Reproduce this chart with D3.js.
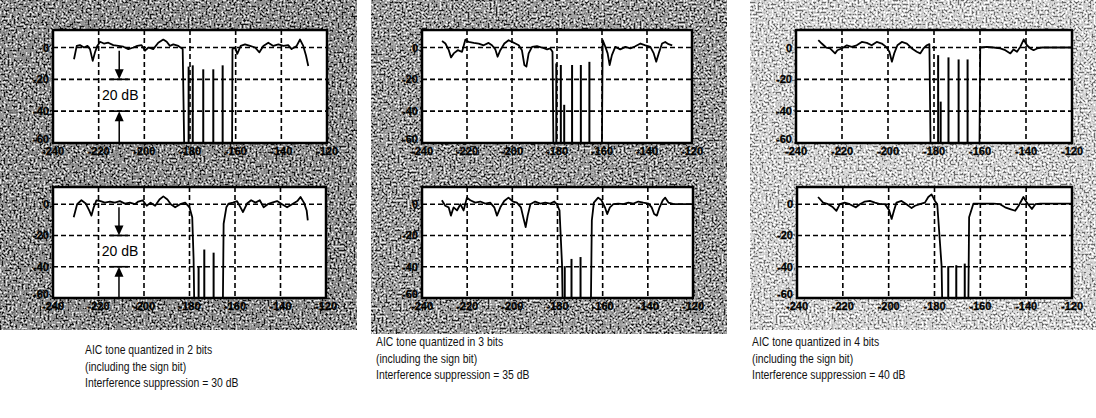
<!DOCTYPE html>
<html>
<head>
<meta charset="utf-8">
<script src="https://cdn.jsdelivr.net/npm/d3@7"></script>
<style>
html, body { margin: 0; padding: 0; background: #fff; }
svg { display: block; }
.cap { font-family: "Liberation Sans", Arial, sans-serif; font-size: 13px; fill: #111; }
.tick { font-family: "Liberation Sans", Arial, sans-serif; font-size: 11px; font-weight: bold; fill: #000; stroke: #000; stroke-width: 0.3; }
.note { font-family: "Liberation Sans", Arial, sans-serif; font-size: 14px; fill: #000; }
</style>
</head>
<body>
<div id="chart"></div>
<script>
// 坐标轴刻度
const xTicks = [-240, -220, -200, -180, -160, -140, -120];
const yTicks = [0, -20, -40, -60];
const yTop = 11;

// 说明文字
const bitCounts = [2, 3, 4];
const suppressionDb = [30, 35, 40];

// 频谱曲线 [频率, dB]，-75 表示落到坐标下限以下
const bits2Top = [[-230.8,-7.4],[-229.6,1],[-228.2,1.5],[-226.4,0],[-224.9,1],[-223.8,-1],[-222.6,-8.4],[-221.6,-3],[-220.6,1],[-219.4,3.6],[-217.7,2.5],[-215.8,3],[-213.6,1.5],[-211.4,1],[-209.2,0.5],[-207,-1],[-204.8,0],[-203.1,1],[-201.2,1.5],[-199.7,-2],[-198.2,0],[-196.1,-1],[-193.9,3],[-191.7,5],[-190.2,3.6],[-188.8,1],[-187.3,2],[-185.1,1],[-183.2,-1],[-182.4,-75],
  [-161.6,-75],[-161.4,-1],[-160.3,0],[-159.3,-4],[-157.8,1],[-155.9,2],[-153.7,1],[-151.5,0],[-149.6,-3],[-147.9,1],[-145.7,3],[-143.5,1],[-141.3,2],[-139.1,1],[-137,1.5],[-135.5,-1],[-133.3,1],[-131.8,5],[-130.4,1],[-129.2,-5],[-128.2,-11.6]];
const bits2TopStems = [[-180.6,-12],[-178.8,-11.2],[-174.2,-13.7],[-169.8,-13.7],[-165.7,-11.2]];

const bits2Bottom = [[-230.9,-8.3],[-229.4,0],[-227.5,2.5],[-225.6,0.4],[-224.1,-4],[-223.1,-7.3],[-222.1,-2],[-220.9,2.5],[-219.1,2],[-217.2,1],[-215,1.7],[-212.8,1],[-210.6,2],[-208.4,0.4],[-206.2,1],[-204,0],[-202.5,1.7],[-200.6,2.5],[-198.8,-1],[-197.1,1],[-195.1,-1],[-193.2,3],[-191.5,5],[-189.7,3],[-188.2,0],[-186.3,-2],[-184.1,0],[-181.9,1],[-180,-2],[-178.8,-8.3],[-178.2,-35],[-177.8,-75],
  [-165.4,-75],[-165,-12.5],[-163.8,-2],[-162.8,0.4],[-160.9,1],[-159.1,2],[-157.6,-2],[-156.5,-5],[-154.7,0.4],[-152.9,2.5],[-151,1],[-149.1,2.5],[-147.4,-2],[-145.6,0],[-143.7,1],[-141.5,2],[-139.3,0],[-137.1,-2],[-134.9,0],[-132.6,2],[-131.2,4.6],[-129.7,1],[-128.5,-4],[-128,-10.4]];
const bits2BottomStems = [[-176,-39.6],[-173.5,-29],[-169.4,-31]];

const bits3Top = [[-231.1,4.1],[-229.6,2.5],[-228.1,-1.7],[-227.1,-6.2],[-225.9,-3.7],[-224.1,-1.7],[-222.2,-2.7],[-220.7,5],[-219.3,3.5],[-217,2.9],[-214.8,2.5],[-212.6,1.4],[-210.4,2.9],[-208.9,1.4],[-207.4,-1.2],[-206.4,-5.8],[-205.2,-1.7],[-203.4,2.5],[-201.5,4.6],[-200,3.5],[-198.5,2.5],[-197,1.4],[-195.6,-1.7],[-194.5,-11],[-193.6,-12],[-192.6,-3.7],[-191.1,0.4],[-188.9,0.8],[-186.7,0],[-184.4,-1.2],[-183,-0.6],[-182,-2.7],[-181.5,-75],
  [-160.1,-75],[-159.7,4.6],[-158.5,0.4],[-157.5,-3.7],[-156.6,-11],[-155.6,-4.8],[-154.1,0.4],[-151.9,-1.2],[-149.6,0.4],[-147.4,-0.6],[-145.2,0.8],[-142.9,2.5],[-140.7,1.4],[-138.5,0.4],[-137,-3.7],[-135.9,-8.9],[-134.8,-3.7],[-133.3,2.5],[-131.9,3.5],[-130.4,2.1],[-128.8,1.4]];
const bits3TopStems = [[-180.3,-10],[-178.3,-11],[-176.8,-36],[-173.3,-11],[-169.4,-11],[-165.6,-9]];

const bits3Bottom = [[-231.2,2.5],[-229.7,-1],[-228.2,-2],[-227.2,-7.3],[-226,-2],[-224.5,-4],[-223,0],[-221.6,-4],[-220.1,4.2],[-218.6,2.5],[-216.4,1],[-214.2,1.7],[-212,0.4],[-209.8,1],[-208,-2],[-206.8,-7.3],[-205.3,-2],[-203.6,2],[-201.7,4.2],[-199.7,1.7],[-198,1],[-196.2,-2],[-195,-9.4],[-194.1,-14.6],[-193.2,-7.3],[-192,0],[-189.9,1.7],[-187.6,0.4],[-185.4,1],[-183.2,0.4],[-181.4,1.7],[-180.3,0],[-179.1,-4],[-178,-38.5],[-177.6,-75],
  [-165.3,-75],[-164.8,-10.4],[-163.9,1],[-162,4.2],[-160.5,2.5],[-159,-2],[-158,-6.3],[-156.8,-2],[-155.3,0],[-153.1,0.4],[-150.8,0],[-148.6,1],[-146.4,0.4],[-144.2,1.7],[-142,1],[-139.7,0.4],[-138.3,-2],[-137.2,-6.3],[-136,-7.3],[-134.8,-2],[-133.4,2.5],[-132.3,4.2],[-130.8,1],[-128.6,0],[-125.7,0],[-121.3,0],[-120,0]];
const bits3BottomStems = [[-176.8,-39.6],[-173.8,-35],[-169.8,-33.8]];

const bits4Top = [[-230.3,4.6],[-228.8,2.5],[-226.9,0],[-225.2,-0.6],[-223,-3.7],[-222,-1.7],[-220.1,-0.6],[-217.9,1.4],[-215.8,0.4],[-213.6,1.4],[-211.4,3.5],[-209.2,2.9],[-207.1,1.4],[-204.9,3.5],[-202.7,2.5],[-200.8,0.4],[-199.4,-2.7],[-198.3,-8.9],[-197.3,-3.7],[-195.9,1.4],[-194,3.5],[-191.8,2.5],[-189.6,-0.6],[-187.5,-2.7],[-186,-3.7],[-184.6,-0.6],[-183.1,1.4],[-182,2.1],[-181.4,-75],
  [-160.3,-75],[-159.9,0],[-157,0.4],[-154.1,0],[-151.2,-0.6],[-149,-1.7],[-146.8,-3.7],[-145.4,-1.2],[-143.9,-2.7],[-142.5,0.4],[-141,5],[-139.6,1.4],[-138.1,-0.6],[-136.7,-1.7],[-135.2,-0.6],[-133,0],[-128,0],[-120,0]];
const bits4TopStems = [[-178.2,-4.8],[-177.1,-34],[-173.7,-6.2],[-169.3,-7.5],[-165.4,-7.5]];

const bits4Bottom = [[-230.8,4.6],[-228.6,1],[-226.4,0],[-224.3,-2],[-222.8,-4.2],[-221.3,0],[-219.2,1],[-217,0],[-214.3,-2],[-212.6,0],[-210.4,1.7],[-208.2,2.1],[-206,1],[-203.8,0],[-201.6,0],[-199.8,-3.8],[-198.7,-9.4],[-197.7,-4.2],[-196.6,1],[-194.4,2.1],[-192.2,0],[-190,-2.5],[-188.5,-1],[-186.4,0],[-184.2,1],[-182.7,4.6],[-181.3,6.3],[-179.8,2.1],[-178.8,0],[-177.6,-25],[-176.9,-39.6],[-176.5,-75],
  [-165.3,-75],[-164.9,-8.3],[-163,0.4],[-160.8,0.4],[-157.2,0.4],[-154.3,0.4],[-151.4,0],[-149.2,-2],[-147,-3.1],[-144.8,-4.2],[-143.3,-1],[-141.2,4.6],[-139.7,1],[-137.5,-3.1],[-136,0],[-133.8,0.4],[-128,0.4],[-120,0.4]];
const bits4BottomStems = [[-174,-39.6],[-170.5,-39],[-166.8,-38]];

// 20 dB 标注（只在第一组图）
const arrowFreq = -211;
const arrowSpans = [[-2, -20], [-60, -40]];
const arrowLabelDb = -30;

// 版面；tone 为扫描底纹的灰阶表
const panels = [
  { bg: [0, 0, 357, 330], tone: '0.08 0.4 0.5 0.58 0.66 0.9', seed: 3, capX: 85, capY: 354,
    plots: [{ box: [53, 30, 274, 113], trace: bits2Top, stems: bits2TopStems, arrows: true },
            { box: [53, 187, 273, 111], trace: bits2Bottom, stems: bits2BottomStems, arrows: true }] },
  { bg: [371, 0, 356, 334], tone: '0.12 0.45 0.56 0.63 0.72 0.93', seed: 11, capX: 376, capY: 346,
    plots: [{ box: [422, 30, 270, 113], trace: bits3Top, stems: bits3TopStems },
            { box: [422, 187, 271, 111], trace: bits3Bottom, stems: bits3BottomStems }] },
  { bg: [750, 0, 346, 330], tone: '0.42 0.7 0.78 0.84 0.9 1', seed: 23, capX: 752, capY: 346,
    plots: [{ box: [796, 30, 276, 113], trace: bits4Top, stems: bits4TopStems },
            { box: [797, 187, 275, 111], trace: bits4Bottom, stems: bits4BottomStems }] }
];

const svg = d3.select('#chart').append('svg')
  .attr('width', 1096)
  .attr('height', 418);
const defs = svg.append('defs');

let clipId = 0;

function drawPlot(g, p) {
  const [bx, by, bw, bh] = p.box;
  const x = d3.scaleLinear().domain([xTicks[0], xTicks[xTicks.length - 1]]).range([bx, bx + bw]);
  const y = d3.scaleLinear().domain([-60, yTop]).range([by + bh, by]);
  const id = 'clip' + (clipId++);

  defs.append('clipPath').attr('id', id)
    .append('rect').attr('x', bx).attr('y', by).attr('width', bw).attr('height', bh);

  g.append('rect')
    .attr('x', bx).attr('y', by).attr('width', bw).attr('height', bh)
    .attr('fill', '#fff');

  // 网格虚线
  const grid = g.append('g')
    .attr('stroke', '#000')
    .attr('stroke-width', 1.6)
    .attr('stroke-dasharray', '5,3');
  grid.selectAll('.gx')
    .data(xTicks.slice(1, -1))
    .enter().append('line')
    .attr('x1', d => x(d)).attr('x2', d => x(d))
    .attr('y1', by).attr('y2', by + bh);
  grid.selectAll('.gy')
    .data(yTicks.slice(0, -1))
    .enter().append('line')
    .attr('x1', bx).attr('x2', bx + bw)
    .attr('y1', d => y(d)).attr('y2', d => y(d));

  const plotArea = g.append('g').attr('clip-path', `url(#${id})`);

  // 频谱曲线
  const line = d3.line().x(d => x(d[0])).y(d => y(d[1]));
  plotArea.append('path')
    .datum(p.trace)
    .attr('d', line)
    .attr('fill', 'none')
    .attr('stroke', '#000')
    .attr('stroke-width', 1.8)
    .attr('stroke-linejoin', 'round');

  // 陷波区谱线
  plotArea.selectAll('.stem')
    .data(p.stems)
    .enter().append('line')
    .attr('x1', d => x(d[0])).attr('x2', d => x(d[0]))
    .attr('y1', y(-60)).attr('y2', d => y(d[1]))
    .attr('stroke', '#000')
    .attr('stroke-width', 2);

  if (p.arrows) {
    const ax = x(arrowFreq);
    const a = g.append('g');
    arrowSpans.forEach(([from, to]) => {
      const y0 = y(from), y1 = y(to);
      const dir = y1 > y0 ? 1 : -1;
      a.append('line')
        .attr('x1', ax).attr('x2', ax)
        .attr('y1', y0).attr('y2', y1 - dir * 6)
        .attr('stroke', '#000').attr('stroke-width', 1.5);
      a.append('path')
        .attr('d', `M${ax},${y1} L${ax - 4.5},${y1 - dir * 10} L${ax + 4.5},${y1 - dir * 10} Z`)
        .attr('fill', '#000');
      a.append('line')
        .attr('x1', ax - 9).attr('x2', ax + 9)
        .attr('y1', y1).attr('y2', y1)
        .attr('stroke', '#000').attr('stroke-width', 1.6);
    });
    a.append('text')
      .attr('class', 'note')
      .attr('x', ax + 1)
      .attr('y', y(arrowLabelDb) + 5)
      .attr('text-anchor', 'middle')
      .text('20 dB');
  }

  // 边框
  g.append('rect')
    .attr('x', bx).attr('y', by).attr('width', bw).attr('height', bh)
    .attr('fill', 'none')
    .attr('stroke', '#000')
    .attr('stroke-width', 2.5);

  // 刻度文字
  g.selectAll('.xl')
    .data(xTicks)
    .enter().append('text')
    .attr('class', 'tick')
    .attr('x', d => x(d))
    .attr('y', by + bh + 12)
    .attr('text-anchor', 'middle')
    .text(d => d);
  g.selectAll('.yl')
    .data(yTicks)
    .enter().append('text')
    .attr('class', 'tick')
    .attr('x', bx - 4)
    .attr('y', d => y(d) + (d === -60 ? 0 : 4))
    .attr('text-anchor', 'end')
    .text(d => d);
}

panels.forEach((pan, i) => {
  const g = svg.append('g');
  const [gx, gy, gw, gh] = pan.bg;

  // 扫描底纹
  const f = defs.append('filter')
    .attr('id', 'grain' + i)
    .attr('filterUnits', 'userSpaceOnUse')
    .attr('x', gx).attr('y', gy).attr('width', gw).attr('height', gh)
    .attr('color-interpolation-filters', 'sRGB');
  f.append('feTurbulence')
    .attr('type', 'fractalNoise')
    .attr('baseFrequency', 0.5)
    .attr('numOctaves', 2)
    .attr('seed', pan.seed);
  f.append('feColorMatrix')
    .attr('type', 'matrix')
    .attr('values', '2.4 0 0 0 -0.7  2.4 0 0 0 -0.7  2.4 0 0 0 -0.7  0 0 0 0 1');
  const ct = f.append('feComponentTransfer');
  ['feFuncR', 'feFuncG', 'feFuncB'].forEach(fn => {
    ct.append(fn).attr('type', 'discrete').attr('tableValues', pan.tone);
  });

  g.append('rect')
    .attr('x', gx).attr('y', gy).attr('width', gw).attr('height', gh)
    .attr('fill', '#999')
    .attr('filter', `url(#grain${i})`);

  pan.plots.forEach(p => drawPlot(g, p));

  const lines = [
    `AIC tone quantized in ${bitCounts[i]} bits`,
    '(including the sign bit)',
    `Interference suppression = ${suppressionDb[i]} dB`
  ];
  g.selectAll('.cap')
    .data(lines)
    .enter().append('text')
    .attr('class', 'cap')
    .attr('transform', (d, k) => `translate(${pan.capX},${pan.capY + k * 16.5}) scale(0.8,1)`)
    .text(d => d);
});
</script>
</body>
</html>
